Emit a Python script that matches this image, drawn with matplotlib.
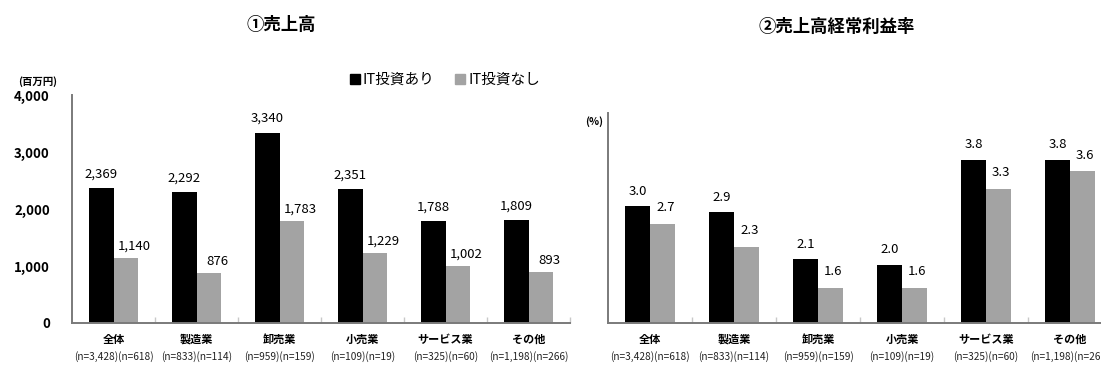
"""Sales and ordinary-profit ratio by industry, with and without IT investment."""

import matplotlib
matplotlib.use("Agg")
import matplotlib.pyplot as plt
from matplotlib.patches import Patch
from matplotlib.transforms import blended_transform_factory

plt.rcParams["font.family"] = ["Noto Sans CJK JP", "DejaVu Sans"]

CATEGORIES = ["全体", "製造業", "卸売業", "小売業", "サービス業", "その他"]
SAMPLE_SIZES = [
    "(n=3,428)(n=618)",
    "(n=833)(n=114)",
    "(n=959)(n=159)",
    "(n=109)(n=19)",
    "(n=325)(n=60)",
    "(n=1,198)(n=266)",
]
SERIES = ["IT投資あり", "IT投資なし"]
SALES_WITH_IT = [2369, 2292, 3340, 2351, 1788, 1809]
SALES_WITHOUT_IT = [1140, 876, 1783, 1229, 1002, 893]
MARGIN_WITH_IT = [3.0, 2.9, 2.1, 2.0, 3.8, 3.8]
MARGIN_WITHOUT_IT = [2.7, 2.3, 1.6, 1.6, 3.3, 3.6]

BLACK = "#000000"
GREY = "#a3a3a3"
SPINE = "#7a7a7a"
W, H = 1101, 370


def px_box(left, bottom, right, top):
    """Axes rectangle from pixel edges (origin at the top-left)."""
    return [left / W, 1 - bottom / H, (right - left) / W, (bottom - top) / H]


def draw_panel(ax, with_it, without_it, fmt, ylim, offsets):
    x = list(range(len(CATEGORIES)))
    width = 0.3
    b1 = ax.bar([i - width / 2 for i in x], with_it, width, color=BLACK)
    b2 = ax.bar([i + width / 2 for i in x], without_it, width, color=GREY)
    ax.set_xlim(-0.5, len(CATEGORIES) - 0.5)
    ax.set_ylim(*ylim)

    (dx1, dy1), (dx2, dy2) = offsets
    for rect, v in zip(b1, with_it):
        ax.annotate(fmt(v), (rect.get_x() + rect.get_width() / 2, v),
                    xytext=(dx1, dy1), textcoords="offset points",
                    ha="center", va="bottom", fontsize=9.5)
    for rect, v in zip(b2, without_it):
        ax.annotate(fmt(v), (rect.get_x() + rect.get_width() / 2, v),
                    xytext=(dx2, dy2), textcoords="offset points",
                    ha="center", va="bottom", fontsize=9.5)

    for side in ("top", "right"):
        ax.spines[side].set_visible(False)
    for side in ("left", "bottom"):
        ax.spines[side].set_color(SPINE)
        ax.spines[side].set_linewidth(1.4)

    ax.set_xticks(x, CATEGORIES, fontsize=8, fontweight="bold")
    ax.tick_params(axis="x", length=0, pad=7)
    ax.set_xticks([i - 0.5 for i in range(1, len(CATEGORIES) + 1)], minor=True)
    ax.tick_params(axis="x", which="minor", direction="in", length=4,
                   color="#c8c8c8", width=1)

    trans = blended_transform_factory(ax.transData, ax.figure.transFigure)
    for i, label in enumerate(SAMPLE_SIZES):
        ax.text(i, 1 - 357 / H, label, transform=trans, ha="center",
                va="center", fontsize=7.3, color="#222222")
    return b1, b2


fig = plt.figure(figsize=(W / 100, H / 100), dpi=100)

ax1 = fig.add_axes(px_box(72, 323, 570, 95))
draw_panel(ax1, SALES_WITH_IT, SALES_WITHOUT_IT, lambda v: f"{v:,}",
           (0, 4000), ((0, 5.5), (6, 4)))
ax1.set_yticks([0, 1000, 2000, 3000, 4000])
ax1.set_yticklabels(["0", "1,000", "2,000", "3,000", "4,000"],
                    fontsize=9.5, fontweight="bold")
ax1.tick_params(axis="y", length=0, pad=16)

ax2 = fig.add_axes(px_box(608, 323, 1112, 113))
draw_panel(ax2, MARGIN_WITH_IT, MARGIN_WITHOUT_IT, lambda v: f"{v:.1f}",
           (1.0, 4.6), ((0, 6), (2, 7)))
ax2.set_yticks([])

fig.text(281 / W, 1 - 25 / H, "①売上高", ha="center", va="center",
         fontsize=12.5, fontweight="bold")
fig.text(837 / W, 1 - 27 / H, "②売上高経常利益率", ha="center", va="center",
         fontsize=12.5, fontweight="bold")
fig.text(38 / W, 1 - 82 / H, "(百万円)", ha="center", va="center",
         fontsize=7.5, fontweight="bold")
fig.text(594 / W, 1 - 122 / H, "(%)", ha="center", va="center",
         fontsize=7.5, fontweight="bold")

handles = [Patch(color=BLACK), Patch(color=GREY)]
fig.legend(handles, SERIES, loc="center left",
           bbox_to_anchor=(344 / W, 1 - 80 / H), ncol=2, frameon=False,
           fontsize=10.5, handlelength=0.7, handleheight=0.7,
           handletextpad=0.2, columnspacing=1.4, borderaxespad=0)

fig.savefig("out.png", dpi=100)
